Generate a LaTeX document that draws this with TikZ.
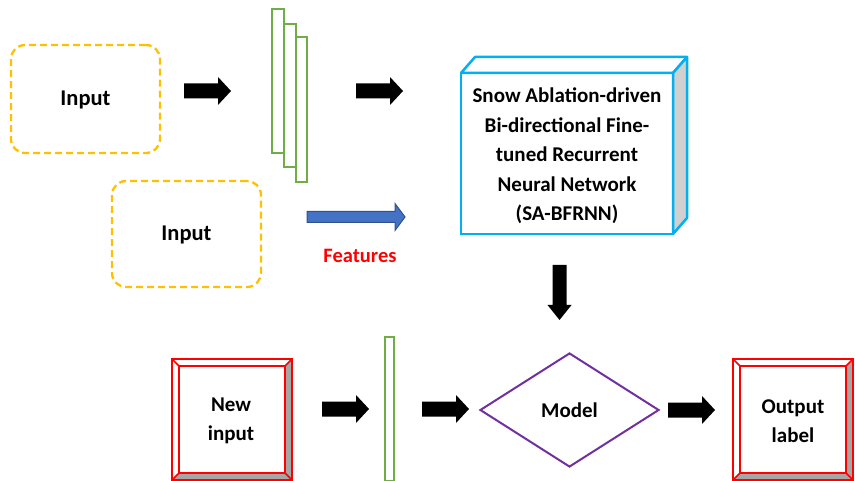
\documentclass[tikz,border=0pt]{standalone}
\usepackage{fontspec}
\setmainfont{Carlito}
\usetikzlibrary{shapes.geometric}
\definecolor{orangeD}{HTML}{FFC000}
\definecolor{greenL}{HTML}{70AD47}
\definecolor{cubeblue}{HTML}{00B0F0}
\definecolor{bluearr}{HTML}{4472C4}
\definecolor{bluearrD}{HTML}{2F528F}
\definecolor{purpleD}{HTML}{7030A0}
\definecolor{redB}{HTML}{FF0000}
\definecolor{grayB}{HTML}{A6A6A6}
\definecolor{grayC}{HTML}{D0D0D0}
\tikzset{
  inputbox/.style={draw=orangeD, line width=2.3pt, dash pattern=on 7pt off 4pt, rounded corners=14pt, inner sep=0pt},
  lbl/.style={font=\fontsize{22.5}{26}\selectfont\bfseries, text=black, align=center},
  bar/.style={draw=greenL, line width=2.8pt, fill=white},
  rarrow/.pic={\fill[black] (0,-7.5) -- (34,-7.5) -- (34,-14) -- (47,0) -- (34,14) -- (34,7.5) -- (0,7.5) -- cycle;},
  darrow/.pic={\fill[black] (-7,0) -- (-7,40) -- (-12,40) -- (0,55) -- (12,40) -- (7,40) -- (7,0) -- cycle;},
  bluearrow/.pic={\filldraw[fill=bluearr, draw=bluearrD, line width=1pt] (0,-5.5) -- (88,-5.5) -- (88,-13.5) -- (98,0) -- (88,13.5) -- (88,5.5) -- (0,5.5) -- cycle;}
}
\newcommand{\bevelbox}[4]{% x1 y1 x2 y2
  \fill[grayB] (#3,#2) -- (#3,#4) -- ({#3-7},{#4-7}) -- ({#3-7},{#2+7}) -- cycle;
  \fill[grayB] (#1,#4) -- (#3,#4) -- ({#3-7},{#4-7}) -- ({#1+7},{#4-7}) -- cycle;
  \draw[redB, line width=2.8pt] (#1,#2) rectangle (#3,#4);
  \draw[redB, line width=2.2pt] ({#1+7},{#2+7}) rectangle ({#3-7},{#4-7});
  \draw[redB, line width=1.5pt] (#1,#2) -- ({#1+7},{#2+7}) (#3,#2) -- ({#3-7},{#2+7})
     (#1,#4) -- ({#1+7},{#4-7}) (#3,#4) -- ({#3-7},{#4-7});
}
\begin{document}
\begin{tikzpicture}[x=1pt,y=-1pt]
\useasboundingbox (0,0) rectangle (855,481);
% inputs
\node[inputbox, minimum width=149pt, minimum height=108pt] (in1) at (85.5,99) {};
\node[lbl] (in1t) at (85.5,100) {Input};
\node[inputbox, minimum width=149pt, minimum height=106pt] (in2) at (186.5,234) {};
\node[lbl] (in2t) at (186.5,235) {Input};
% green stacked bars
\draw[bar] (296,37) rectangle (307,182);
\draw[bar] (284,24) rectangle (296,167);
\draw[bar] (272,9) rectangle (284,153);
% arrows top
\pic at (184,91) {rarrow};
\pic at (356,91) {rarrow};
\pic at (307,217) {bluearrow};
\node[font=\fontsize{20.5}{24}\selectfont\bfseries, text=redB] (feat) at (360,256) {Features};
% cube
\filldraw[draw=cubeblue, line width=2.5pt, fill=white, line join=round] (461,73) -- (475,57) -- (687,57) -- (673,73) -- cycle;
\filldraw[draw=cubeblue, line width=2.5pt, fill=grayC, line join=round] (673,73) -- (687,57) -- (687,218) -- (673,234) -- cycle;
\draw[draw=cubeblue, line width=2.5pt] (461,73) rectangle (673,234);
\node[font=\fontsize{21}{29.5}\selectfont\bfseries, align=center] (cube) at (567,156) {Snow Ablation-driven\\Bi-directional Fine-\\tuned Recurrent\\Neural Network\\(SA-BFRNN)};
% down arrow
\pic at (559.5,265) {darrow};
% bottom row
\bevelbox{172}{359}{292}{480}
\node[lbl, font=\fontsize{21}{29}\selectfont\bfseries] (newin) at (231,421) {New\\input};
\pic at (322,409) {rarrow};
\draw[bar] (385,337) rectangle (394,481);
\pic at (422,409) {rarrow};
\node[diamond, draw=purpleD, line width=2pt, minimum width=179pt, minimum height=114pt, inner sep=0pt, aspect=1.57] (model) at (569.5,410) {};
\node[font=\fontsize{21}{24}\selectfont\bfseries] (modelt) at (model.center) {Model};
\pic at (668,410) {rarrow};
\bevelbox{733}{359}{853}{480}
\node[lbl, font=\fontsize{21}{29}\selectfont\bfseries] (outl) at (793,421) {Output\\label};
\end{tikzpicture}
\end{document}
